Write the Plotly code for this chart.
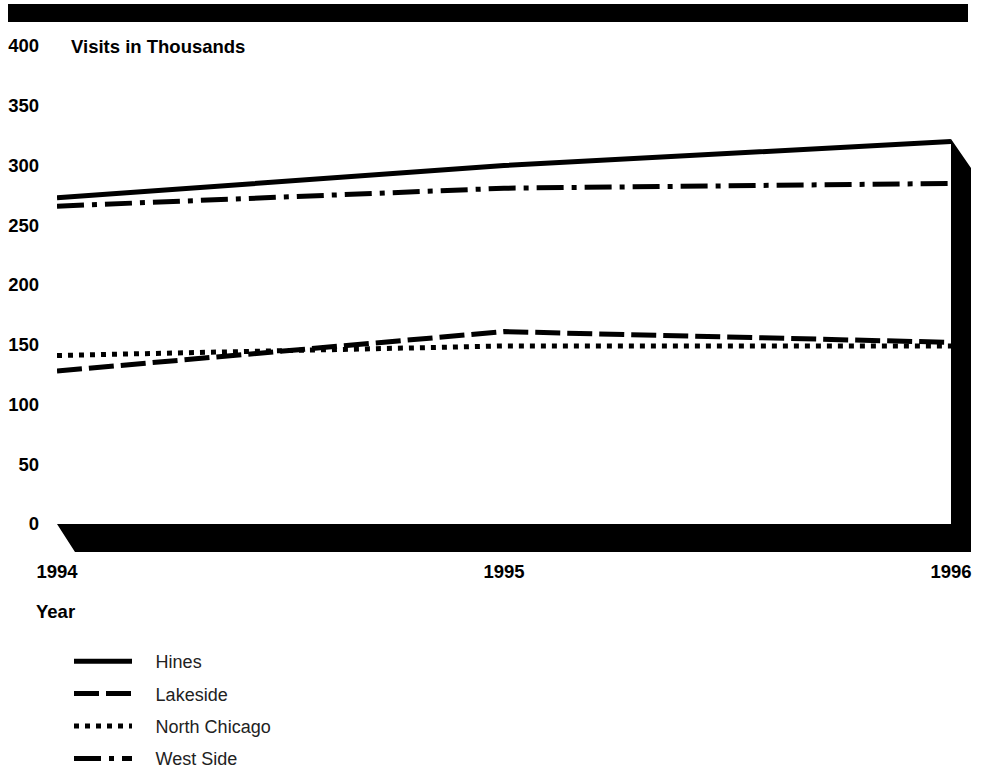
import plotly.graph_objects as go

# data
years = [1994, 1995, 1996]
hines = [273, 300, 320]
lakeside = [128, 161, 152]
north_chicago = [141, 149, 149]
west_side = [266, 281, 285]

series = [
    ("Hines", hines, "solid"),
    ("Lakeside", lakeside, "25px,7px"),
    ("North Chicago", north_chicago, "5px,6px"),
    ("West Side", west_side, "27px,8px,5px,8px"),
]

# page geometry
W, H = 987, 771
L, R, T, B = 57, 36, 46, 247
pw, ph = W - L - R, H - T - B
ymax = 400

def px(xpix):
    return (xpix - L) / pw

def py(ypix):
    return (H - B - ypix) / ph

BOLD = dict(family="Liberation Sans, Arial", size=18.5, color="black")
GAP = "\u00a0" * 3 + "\u2009"

fig = go.Figure()
for i, (name, vals, dash) in enumerate(series):
    fig.add_scatter(x=years, y=vals, mode="lines", name=GAP + name, legendgroup=str(i),
                    line=dict(color="black", width=5, dash=dash))

# 3d looking frame: floor below the axis and wall at the right end
x0, x1 = L, W - R
y0 = H - B
ytop = y0 - hines[-1] / ymax * ph - 2.5
frame = [(x0, y0), (x1, y0), (x1, ytop), (x1 + 20, ytop + 29),
         (x1 + 20, y0 + 28), (x0 + 18, y0 + 28)]
path = "M " + " L ".join(f"{px(a):.5f},{py(b):.5f}" for a, b in frame) + " Z"
fig.add_shape(type="path", path=path, xref="paper", yref="paper",
              fillcolor="black", line=dict(width=0), layer="below")
# top bar
fig.add_shape(type="rect", xref="paper", yref="paper", x0=px(8), x1=px(968),
              y0=py(22), y1=py(4), fillcolor="black", line=dict(width=0))

fig.add_annotation(text="<b>Visits in Thousands</b>", xref="paper", yref="y",
                   x=px(69), y=ymax, xanchor="left", yanchor="middle",
                   showarrow=False, font=BOLD)
fig.add_annotation(text="<b>Year</b>", xref="paper", yref="paper",
                   x=px(34), y=py(611), xanchor="left", yanchor="middle",
                   showarrow=False, font=BOLD)

fig.update_xaxes(range=[1994, 1996], tickvals=years, ticktext=[f"<b>{y}</b>" for y in years],
                 showgrid=False, zeroline=False, showline=False, ticks="",
                 ticklabelstandoff=34, tickfont=BOLD)
fig.update_yaxes(range=[0, ymax], dtick=50, tickformat="d",
                 showgrid=False, zeroline=False, showline=False, ticks="",
                 ticklabelstandoff=17, tickfont=dict(BOLD, weight="bold"))

fig.update_layout(
    width=W, height=H,
    margin=dict(l=L, r=R, t=T, b=B, autoexpand=False),
    plot_bgcolor="white", paper_bgcolor="white",
    showlegend=True,
    legend=dict(x=px(69), y=py(643), xanchor="left", yanchor="top",
                itemwidth=58, tracegroupgap=6,
                font=dict(family="Liberation Sans, Arial", size=18, color="#222")),
)

fig.write_html("out.html", config={"displayModeBar": False},
               post_script="document.body.style.margin='0';")
